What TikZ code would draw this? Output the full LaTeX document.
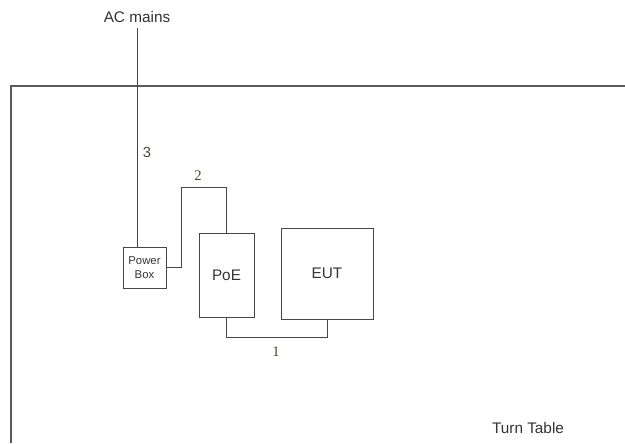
\documentclass[tikz,border=0pt]{standalone}
\usepackage{fontspec}
\setmainfont{Liberation Sans}
\newfontfamily\serifnum{Liberation Serif}
\usetikzlibrary{positioning}
\definecolor{wire}{HTML}{464646}
\definecolor{txt}{HTML}{333333}

\begin{document}
\begin{tikzpicture}[x=0.75pt,y=-0.75pt,font=\fontsize{11.5}{13}\selectfont,
  unit/.style={draw=wire,line width=0.7pt,inner sep=0pt,text=txt},
  cable/.style={draw=wire,line width=0.7pt},
  num/.style={text=txt!80!brown,inner sep=1pt}]
  \useasboundingbox (0,0) rectangle (625,443);
  % table edge
  \coordinate (tl) at (11,86);
  \draw[gray!70!black,line width=1.1pt] (11,443) -- (tl) -- (625,86);
  \node[text=txt] (turn) at (528,428) {Turn Table};
  % units
  \node[unit,minimum width=32.25pt,minimum height=30.75pt,align=center,
        font=\fontsize{8.5}{10}\selectfont] (pbox) at (144.5,267.5) {Power\\Box};
  \node[unit,minimum width=41.25pt,minimum height=63pt] (poe) at (226.5,275) {PoE};
  \node[unit,minimum width=69pt,minimum height=68.25pt] (eut) at (327,273.5) {EUT};
  % mains
  \node[text=txt] (mains) at (137,17) {AC mains};
  \coordinate (acm) at (137,28);
  \draw[cable] (acm) -- (acm |- pbox.north);
  \node[num,font=\fontsize{11}{12}\selectfont] (n3) at (147,152) {3};
  % cables
  \coordinate (c2) at (181,187);
  \draw[cable] (pbox.east) -| (c2) -| (poe.north);
  \node[num,font=\serifnum\fontsize{11}{12}\selectfont] (n2) at (198,176) {2};
  \draw[cable] (poe.south) -- ++(0,20) -| (eut.south);
  \node[num,font=\serifnum\fontsize{11}{12}\selectfont] (n1) at (276,352) {1};
\end{tikzpicture}
\end{document}
